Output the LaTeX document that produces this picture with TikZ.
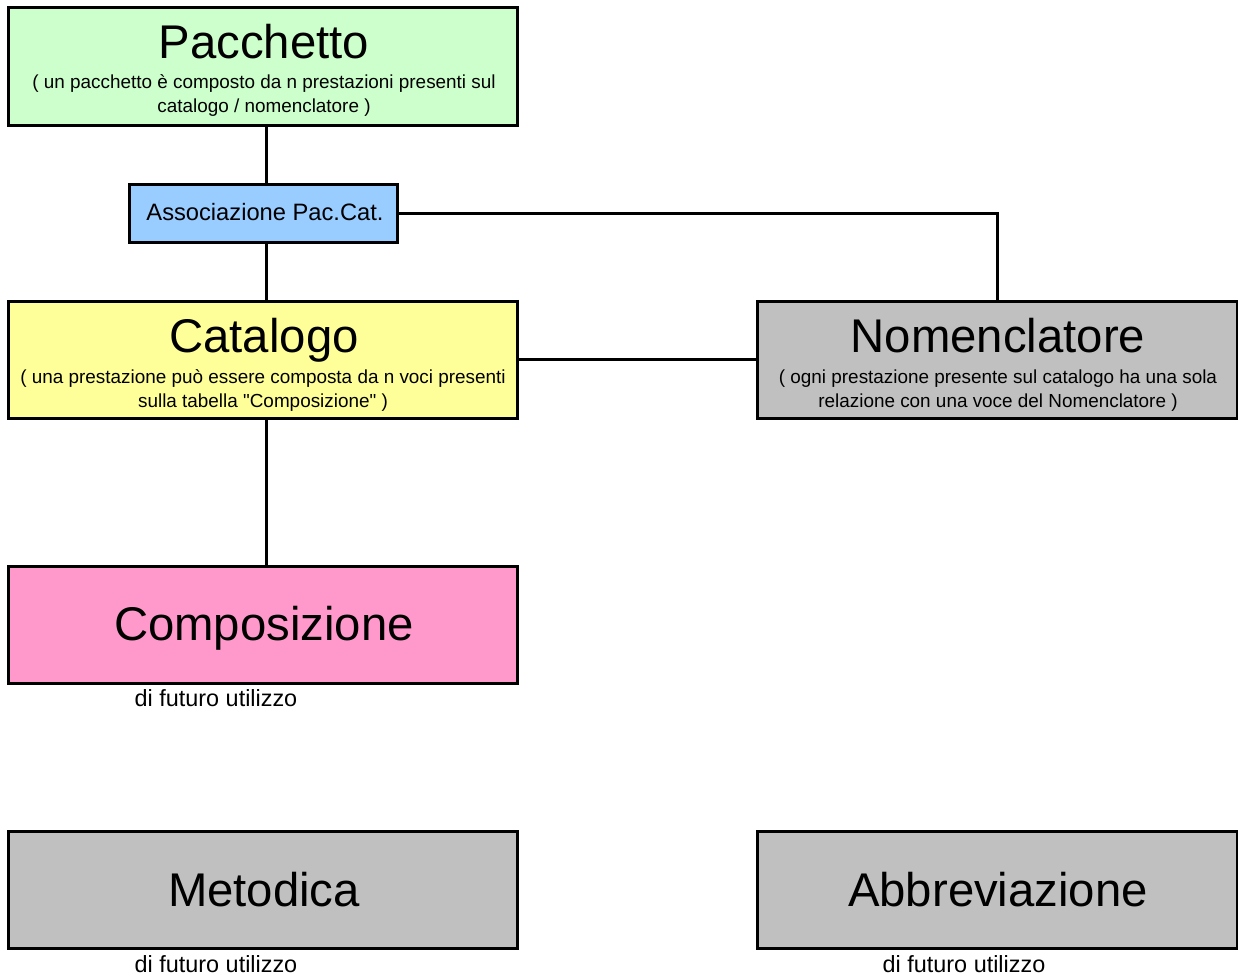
\documentclass[tikz,border=0pt]{standalone}
\usepackage{fontspec}
\setmainfont{Liberation Sans}
\definecolor{cpac}{HTML}{CCFFCC}
\definecolor{cass}{HTML}{99CCFF}
\definecolor{ccat}{HTML}{FFFF99}
\definecolor{cgray}{HTML}{C0C0C0}
\definecolor{cpink}{HTML}{FF99CC}
\tikzset{
  ent/.style={draw=black, line width=3pt, inner sep=0pt, outer sep=0pt},
  bigbox/.style={ent, minimum width=509pt, minimum height=117pt},
  widebox/.style={ent, minimum width=480pt, minimum height=117pt},
  ttl/.style={anchor=base, inner sep=0pt, font=\fontsize{47.3}{52}\selectfont},
  sub/.style={anchor=base, inner sep=0pt, font=\fontsize{18.9}{22}\selectfont},
  note/.style={anchor=base, inner sep=0pt, font=\fontsize{23.4}{26}\selectfont},
  conn/.style={line width=3pt}
}
\begin{document}
\begin{tikzpicture}[x=1pt,y=-1pt]
\useasboundingbox (0,0) rectangle (1238,979);
% boxes
\node[bigbox, fill=cpac] (pac) at (262.5,66.5) {};
\node[ent, fill=cass, minimum width=268pt, minimum height=58pt] (ass) at (263,213) {};
\node[bigbox, fill=ccat] (cat) at (262.5,359.5) {};
\node[widebox, fill=cgray] (nom) at (997,359.5) {};
\node[bigbox, fill=cpink] (com) at (262.5,625) {};
\node[bigbox, fill=cgray] (met) at (262.5,889.5) {};
\node[widebox, fill=cgray] (abb) at (997,889.5) {};
% connectors
\coordinate (bend) at (997,213);
\draw[conn] (pac.south -| 266,0) -- (ass.north -| 266,0);
\draw[conn] (ass.south -| 266,0) -- (cat.north -| 266,0);
\draw[conn] (cat.south -| 266,0) -- (com.north -| 266,0);
\draw[conn] (ass.east) -- (bend) -- (nom.north);
\draw[conn] (cat.east) -- (nom.west);
% texts
\node[ttl] (pact) at (264,59) {Pacchetto};
\node[sub] (pacs1) at (264,89) {( un pacchetto è composto da n prestazioni presenti sul};
\node[sub] (pacs2) at (264,113) {catalogo / nomenclatore )};
\node[anchor=base, inner sep=0pt, font=\fontsize{23.7}{26}\selectfont] (asst) at (265,220) {Associazione Pac.Cat.};
\node[ttl] (catt) at (264,352) {Catalogo};
\node[sub] (cats1) at (263,383) {( una prestazione può essere composta da n voci presenti};
\node[sub] (cats2) at (263,407) {sulla tabella \textquotedbl Composizione\textquotedbl\ )};
\node[ttl] (nomt) at (998,352) {Nomenclatore};
\node[sub] (noms1) at (998,383) {( ogni prestazione presente sul catalogo ha una sola};
\node[sub] (noms2) at (998,407) {relazione con una voce del Nomenclatore )};
\node[ttl] (comt) at (264,640) {Composizione};
\node[note] (comn) at (216,706) {di futuro utilizzo};
\node[ttl] (mett) at (264,906) {Metodica};
\node[note] (metn) at (216,972) {di futuro utilizzo};
\node[ttl] (abbt) at (998,906) {Abbreviazione};
\node[note] (abbn) at (964,972) {di futuro utilizzo};
\end{tikzpicture}
\end{document}
